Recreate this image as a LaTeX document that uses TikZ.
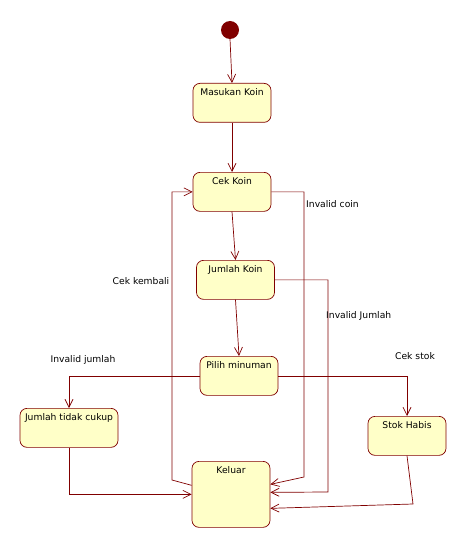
\documentclass[tikz,border=0pt]{standalone}
\usepackage{fontspec}
\setmainfont{DejaVu Sans}
\usetikzlibrary{arrows.meta}
\definecolor{garis}{RGB}{128,0,0}
\definecolor{isi}{RGB}{255,255,200}
\tikzset{
    state/.style={draw=garis, fill=isi, rounded corners=7pt, line width=0.7pt,
        minimum width=78pt, inner xsep=2pt, inner ysep=5pt,
        text height=7pt, text depth=22pt, font=\fontsize{9.2}{11}\selectfont},
    trans/.style={draw=garis, line width=0.7pt, -{Straight Barb[length=8pt,width=8pt]}},
    ket/.style={font=\fontsize{9.2}{11}\selectfont, inner sep=0pt}
}
\begin{document}
\begin{tikzpicture}[x=1pt, y=-1pt]
                \useasboundingbox (0,0) rectangle (467,548);

                \fill [garis] (230,30) circle (9pt);
                \coordinate (init) at (230,39);

                \node [state, anchor=north] (masuk) at (232,83) {Masukan Koin};
                \node [state, anchor=north] (cek) at (232,172) {Cek Koin};
                \node [state, anchor=north] (jumlah) at (235.5,260) {Jumlah Koin};
                \node [state, anchor=north] (pilih) at (239,356) {Pilih minuman};
                \node [state, anchor=north, minimum width=98pt] (kurang) at (69,408) {Jumlah tidak cukup};
                \node [state, anchor=north] (habis) at (407,416) {Stok Habis};
                \node [state, anchor=north, text depth=49pt] (keluar) at (231,461) {Keluar};

                \coordinate (c1) at (304,477);
                \coordinate (c2) at (328,492);
                \coordinate (c3) at (413,504);
                \coordinate (c4) at (172,480);

                \draw [trans] (init) -- (masuk.north);
                \draw [trans] (masuk) -- (cek);
                \draw [trans] (cek.south) -- (jumlah.north);
                \draw [trans] (jumlah.south) -- (pilih.north);

                \draw [trans] (cek.east) -| (c1) -- ([yshift=10pt]keluar.east);
                \draw [trans] (jumlah.east) -| (c2) -- ([yshift=2pt]keluar.east);
                \draw [trans] (pilih.west) -| (kurang.north);
                \draw [trans] (pilih.east) -| (habis.north);
                \draw [trans] (kurang.south) |- (keluar.west);
                \draw [trans] (habis.south) -- (c3) -- ([yshift=-14pt]keluar.east);
                \draw [trans] ([yshift=9pt]keluar.west) -- (c4) |- (cek.west);

                \node [ket, anchor=west] (lcoin) at (306,204) {Invalid coin};
                \node [ket, anchor=west] (ljumlah) at (326,316) {Invalid Jumlah};
                \node [ket] (lkurang) at (83,360) {Invalid jumlah};
                \node [ket] (lstok) at (415,356) {Cek stok};
                \node [ket] (lkembali) at (141,281) {Cek kembali};
            \end{tikzpicture}
\end{document}
